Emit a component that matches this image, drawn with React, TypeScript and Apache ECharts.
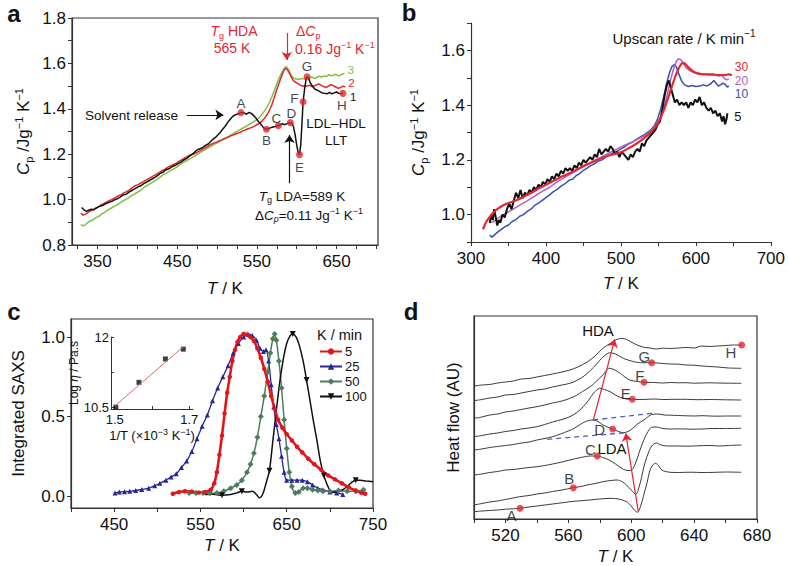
import React, { useEffect, useRef } from "react";
import * as echarts from "echarts";

const FONT = '"Liberation Sans", Arial, Helvetica, sans-serif';

// ---------------- Panel a ----------------
const aScan1: [number, number][] = [[330,0.965],[333,0.955],[336,0.948],[339,0.953],[342,0.958],[345,0.955],[348,0.962],[351,0.968],[354,0.972],[357,0.975],[360,0.982],[363,0.986],[366,0.99],[369,0.994],[372,1.0],[375,1.004],[378,1.01],[381,1.018],[384,1.022],[387,1.026],[390,1.034],[393,1.04],[396,1.046],[399,1.052],[402,1.058],[405,1.062],[408,1.07],[411,1.076],[414,1.082],[417,1.088],[420,1.094],[423,1.1],[426,1.108],[429,1.116],[432,1.12],[435,1.13],[438,1.134],[441,1.138],[444,1.146],[447,1.15],[450,1.156],[453,1.162],[456,1.168],[459,1.176],[462,1.182],[465,1.19],[468,1.198],[471,1.206],[474,1.216],[477,1.222],[480,1.226],[483,1.232],[486,1.24],[489,1.245],[492,1.256],[495,1.266],[498,1.274],[501,1.285],[504,1.296],[507,1.31],[510,1.322],[513,1.338],[516,1.352],[519,1.364],[522,1.372],[525,1.376],[528,1.38],[531,1.384],[534,1.382],[537,1.376],[540,1.384],[543,1.38],[546,1.37],[549,1.358],[552,1.344],[555,1.332],[558,1.318],[561,1.31],[564,1.312],[567,1.316],[570,1.32],[573,1.322],[576,1.325],[579,1.33],[582,1.334],[585,1.33],[588,1.335],[591,1.338],[594,1.336],[596,1.32],[598,1.285],[600,1.24],[602,1.205],[603.5,1.198],[605,1.24],[606.5,1.33],[608,1.431],[610,1.49],[612,1.535],[613,1.541],[615,1.535],[617,1.515],[620,1.498],[623,1.486],[626,1.482],[629,1.476],[632,1.47],[635,1.468],[638,1.466],[641,1.472],[644,1.466],[647,1.47],[650,1.474],[653,1.468],[656,1.466],[658,1.468]];
const aScan2: [number, number][] = [[329,0.94],[332,0.932],[335,0.936],[338,0.944],[341,0.95],[344,0.955],[347,0.96],[350,0.966],[353,0.972],[356,0.98],[359,0.984],[362,0.99],[365,0.996],[368,1.0],[371,1.006],[374,1.012],[377,1.018],[380,1.022],[383,1.03],[386,1.034],[389,1.04],[392,1.048],[395,1.056],[398,1.062],[401,1.066],[404,1.072],[407,1.078],[410,1.084],[413,1.09],[416,1.096],[419,1.102],[422,1.108],[425,1.114],[428,1.12],[431,1.128],[434,1.132],[437,1.14],[440,1.146],[443,1.15],[446,1.156],[449,1.16],[452,1.168],[455,1.174],[458,1.18],[461,1.186],[464,1.192],[467,1.198],[470,1.2],[473,1.204],[476,1.21],[479,1.216],[482,1.222],[485,1.228],[488,1.234],[491,1.24],[494,1.246],[497,1.25],[500,1.254],[503,1.26],[506,1.262],[509,1.268],[512,1.272],[515,1.276],[518,1.282],[521,1.286],[524,1.29],[527,1.294],[530,1.298],[533,1.304],[536,1.308],[539,1.312],[542,1.316],[545,1.32],[548,1.326],[551,1.332],[554,1.338],[557,1.348],[560,1.36],[563,1.375],[566,1.395],[569,1.42],[572,1.452],[575,1.485],[578,1.515],[581,1.545],[584,1.57],[586,1.578],[588,1.574],[590,1.562],[592,1.548],[594,1.534],[596,1.524],[598,1.518],[601,1.512],[604,1.505],[607,1.5],[610,1.502],[613,1.5],[616,1.504],[619,1.498],[622,1.5],[625,1.506],[628,1.51],[631,1.502],[634,1.498],[637,1.494],[640,1.5],[643,1.506],[646,1.502],[649,1.496],[652,1.49],[655,1.494],[658,1.5],[661,1.497]];
const aScan3: [number, number][] = [[329,0.89],[332,0.884],[335,0.89],[338,0.9],[341,0.906],[344,0.91],[347,0.918],[350,0.924],[353,0.93],[356,0.938],[359,0.944],[362,0.952],[365,0.958],[368,0.964],[371,0.97],[374,0.976],[377,0.982],[380,0.99],[383,0.996],[386,1.002],[389,1.008],[392,1.016],[395,1.022],[398,1.028],[401,1.034],[404,1.04],[407,1.05],[410,1.058],[413,1.064],[416,1.07],[419,1.076],[422,1.084],[425,1.09],[428,1.098],[431,1.106],[434,1.112],[437,1.118],[440,1.124],[443,1.13],[446,1.136],[449,1.142],[452,1.15],[455,1.158],[458,1.164],[461,1.17],[464,1.176],[467,1.182],[470,1.188],[473,1.194],[476,1.2],[479,1.208],[482,1.214],[485,1.22],[488,1.226],[491,1.232],[494,1.238],[497,1.244],[500,1.25],[503,1.256],[506,1.262],[509,1.268],[512,1.274],[515,1.28],[518,1.286],[521,1.292],[524,1.298],[527,1.304],[530,1.31],[533,1.316],[536,1.322],[539,1.328],[542,1.334],[545,1.34],[548,1.348],[551,1.356],[554,1.366],[557,1.378],[560,1.392],[563,1.41],[566,1.43],[569,1.455],[572,1.482],[575,1.51],[578,1.535],[581,1.558],[584,1.576],[586,1.585],[588,1.582],[590,1.57],[592,1.556],[594,1.544],[596,1.536],[598,1.532],[601,1.53],[604,1.53],[607,1.534],[610,1.53],[613,1.532],[616,1.536],[619,1.54],[622,1.534],[625,1.538],[628,1.544],[631,1.54],[634,1.545],[637,1.542],[640,1.55],[643,1.546],[646,1.548],[649,1.552],[652,1.546],[655,1.548],[658,1.554],[660,1.555]];
const aLetters = ["A", "B", "C", "D", "E", "F", "G", "H"];
const aLetterT = [530, 562, 577, 592, 603.5, 608, 613, 658];
const aLetterCp = [1.383, 1.31, 1.325, 1.339, 1.198, 1.431, 1.541, 1.468];
const aXLabels = [350, 450, 550, 650];
const aXTicks = [325, 350, 375, 400, 425, 450, 475, 500, 525, 550, 575, 600, 625, 650, 675, 700];
const aYLabels = [0.8, 1.0, 1.2, 1.4, 1.6, 1.8];
const aYTicks = [0.8, 0.9, 1.0, 1.1, 1.2, 1.3, 1.4, 1.5, 1.6, 1.7, 1.8];
const aArrows = [
  { from: [462, 1.373], to: [508, 1.373], color: "#111" },
  { from: [587.5, 1.734], to: [587.5, 1.615], color: "#e3262f" },
  { from: [591, 1.072], to: [591, 1.285], color: "#111" },
];

// ---------------- Panel b ----------------
const b30: [number, number][] = [[316,0.946],[320,0.972],[325,0.992],[330,1.008],[336,1.022],[343,1.034],[352,1.044],[362,1.054],[372,1.068],[382,1.082],[392,1.098],[402,1.112],[412,1.126],[422,1.14],[432,1.152],[442,1.166],[452,1.18],[462,1.192],[472,1.204],[482,1.214],[492,1.222],[500,1.228],[510,1.242],[520,1.258],[530,1.278],[538,1.296],[545,1.316],[551,1.343],[557,1.38],[562,1.418],[567,1.46],[572,1.5],[576,1.528],[580,1.548],[583,1.554],[586,1.55],[590,1.538],[595,1.526],[600,1.518],[606,1.514],[614,1.512],[622,1.512],[630,1.51],[638,1.51],[644,1.512],[648,1.51]];
const b20: [number, number][] = [[325,0.97],[330,0.975],[335,0.985],[340,0.995],[347,1.005],[355,1.018],[365,1.035],[375,1.05],[385,1.068],[395,1.085],[405,1.1],[415,1.12],[425,1.136],[435,1.152],[445,1.168],[455,1.182],[465,1.198],[475,1.212],[485,1.226],[495,1.24],[505,1.254],[512,1.262],[520,1.272],[530,1.286],[540,1.306],[547,1.325],[553,1.355],[558,1.395],[562,1.44],[566,1.49],[570,1.53],[574,1.56],[577,1.57],[580,1.566],[584,1.548],[588,1.534],[593,1.524],[598,1.518],[605,1.512],[612,1.514],[618,1.51],[624,1.512],[630,1.506],[635,1.508],[638,1.498],[641,1.492],[644,1.496]];
const b10: [number, number][] = [[325,0.925],[328,0.918],[331,0.925],[335,0.935],[340,0.945],[345,0.955],[350,0.962],[355,0.975],[360,0.982],[365,0.994],[370,1.0],[375,1.012],[380,1.02],[385,1.034],[390,1.042],[395,1.052],[400,1.062],[405,1.072],[410,1.084],[415,1.092],[420,1.104],[425,1.112],[431,1.126],[436,1.13],[440,1.142],[445,1.15],[450,1.162],[455,1.17],[460,1.18],[465,1.186],[470,1.196],[475,1.2],[480,1.212],[485,1.218],[490,1.226],[495,1.232],[500,1.24],[505,1.248],[510,1.258],[515,1.264],[520,1.274],[525,1.282],[530,1.29],[535,1.3],[540,1.31],[545,1.326],[549,1.35],[553,1.385],[557,1.43],[561,1.48],[565,1.52],[568,1.54],[571,1.548],[574,1.54],[577,1.515],[581,1.488],[585,1.474],[590,1.468],[595,1.472],[600,1.468],[605,1.47],[610,1.474],[615,1.47],[620,1.478],[624,1.49],[627,1.48],[630,1.47],[633,1.474],[636,1.48],[639,1.476],[642,1.466],[644,1.47]];
const b5: [number, number][] = [[325,0.97],[327,1.0],[329,0.98],[331,1.02],[333,0.99],[335,0.96],[337,0.98],[339,0.97],[342,1.0],[345,0.99],[348,1.02],[351,1.04],[354,1.02],[357,1.05],[360,1.08],[363,1.06],[366,1.09],[369,1.06],[372,1.08],[375,1.07],[378,1.09],[381,1.08],[384,1.1],[387,1.09],[390,1.11],[393,1.1],[396,1.12],[399,1.11],[402,1.13],[405,1.12],[408,1.14],[411,1.13],[414,1.15],[417,1.14],[420,1.16],[423,1.15],[426,1.17],[429,1.16],[432,1.17],[435,1.16],[438,1.18],[441,1.17],[444,1.19],[447,1.18],[450,1.2],[453,1.19],[456,1.2],[459,1.21],[462,1.2],[465,1.22],[468,1.21],[471,1.24],[474,1.22],[477,1.23],[480,1.24],[483,1.23],[486,1.25],[489,1.24],[492,1.22],[495,1.23],[498,1.21],[501,1.23],[504,1.22],[507,1.21],[510,1.2],[513,1.22],[516,1.21],[519,1.23],[522,1.24],[525,1.23],[528,1.26],[531,1.25],[534,1.27],[537,1.28],[540,1.29],[543,1.3],[546,1.31],[549,1.33],[552,1.34],[555,1.38],[558,1.43],[561,1.47],[564,1.49],[566,1.47],[568,1.45],[570,1.43],[572,1.41],[575,1.42],[578,1.4],[581,1.41],[584,1.4],[587,1.41],[590,1.39],[593,1.41],[596,1.4],[599,1.42],[602,1.41],[605,1.43],[608,1.4],[611,1.41],[614,1.39],[617,1.38],[620,1.39],[623,1.37],[626,1.38],[629,1.36],[632,1.37],[635,1.34],[637,1.36],[639,1.33],[641,1.35],[642,1.37]];
const bXLabels = [300, 400, 500, 600, 700];
const bXTicks = [300, 350, 400, 450, 500, 550, 600, 650, 700];
const bYLabels = [1.0, 1.2, 1.4, 1.6];
const bYTicks = [0.9, 1.0, 1.1, 1.2, 1.3, 1.4, 1.5, 1.6, 1.7];

// ---------------- Panel c ----------------
const c5: [number, number][] = [[518,0.015],[525,0.025],[532,0.03],[540,0.028],[548,0.022],[555,0.025],[562,0.04],[566,0.08],[569,0.15],[572,0.26],[575,0.38],[578,0.52],[581,0.65],[584,0.75],[587,0.85],[590,0.92],[593,0.97],[596,1.0],[600,1.02],[604,1.015],[608,1.0],[612,0.975],[616,0.93],[620,0.87],[624,0.8],[628,0.72],[632,0.63],[636,0.55],[640,0.48],[645,0.43],[650,0.39],[656,0.35],[662,0.31],[668,0.275],[675,0.235],[682,0.2],[690,0.165],[698,0.13],[706,0.105],[714,0.08],[722,0.055],[730,0.035],[737,0.02],[741,0.015]];
const c25: [number, number][] = [[451,0.02],[456,0.025],[462,0.028],[468,0.03],[475,0.035],[482,0.042],[490,0.05],[497,0.065],[503,0.08],[510,0.1],[516,0.12],[522,0.14],[528,0.18],[534,0.22],[540,0.28],[546,0.36],[552,0.44],[558,0.51],[564,0.6],[570,0.68],[576,0.75],[582,0.82],[588,0.9],[594,0.96],[600,1.0],[605,1.02],[610,1.01],[615,0.98],[619,0.93],[623,0.91],[626,0.92],[629,0.85],[632,0.7],[635,0.56],[638,0.45],[641,0.36],[644,0.25],[647,0.15],[650,0.1],[656,0.1],[662,0.1],[668,0.1],[674,0.09],[680,0.07],[686,0.05],[692,0.04],[700,0.025],[708,0.02],[715,0.01]];
const c50: [number, number][] = [[537,0.02],[545,0.02],[553,0.02],[561,0.018],[569,0.02],[577,0.03],[585,0.05],[592,0.07],[598,0.1],[604,0.15],[608,0.2],[612,0.27],[616,0.37],[620,0.5],[624,0.63],[628,0.78],[631,0.9],[634,0.99],[636,1.02],[638,0.98],[641,0.85],[644,0.68],[647,0.48],[650,0.3],[653,0.15],[656,0.06],[660,0.02],[664,0.025],[669,0.05],[674,0.05],[680,0.04],[686,0.035],[692,0.03],[700,0.03],[710,0.035],[720,0.03],[730,0.03],[739,0.04]];
const c100: [number, number][] = [[555,0.01],[565,0.012],[575,0.005],[585,0.01],[592,0.02],[598,0.03],[604,0.025],[610,0.03],[615,0.01],[618,-0.01],[621,0.0],[624,0.04],[627,0.1],[630,0.16],[634,0.35],[638,0.54],[642,0.72],[646,0.86],[650,0.96],[654,1.01],[657,1.02],[661,1.0],[665,0.94],[669,0.85],[673,0.73],[677,0.6],[681,0.47],[685,0.35],[689,0.22],[693,0.13],[697,0.07],[701,0.03],[705,0.025],[710,0.03],[715,0.04],[720,0.06],[725,0.085],[730,0.1],[735,0.1],[742,0.095],[750,0.09]];
const c100Marked = [575, 598, 630, 657, 673, 693, 730];
const cXLabels = [450, 550, 650, 750];
const cXTicks = [400, 450, 500, 550, 600, 650, 700, 750];
const cYLabels = [0, 0.5, 1.0];
const insetInvT = [1.503, 1.565, 1.636, 1.684];
const insetLogEta = [10.5, 11.03, 11.53, 11.74];
const insetFit: [number, number][] = [[1.501, 10.53], [1.684, 11.79]];
const insetXLabels = [1.5, 1.7];
const insetXTicks = [1.5, 1.6, 1.7];
const insetYLabels = [10.5, 12];
const insetYTicks = [10.5, 11.25, 12];

// ---------------- Panel d ----------------
const dH: [number, number][] = [[500,13.3],[505,13.4],[510,13.45],[515,13.6],[520,13.7],[525,13.8],[530,14.0],[535,14.05],[540,14.2],[545,14.35],[550,14.5],[556,14.7],[561,14.9],[566,15.2],[572,15.7],[577,16.3],[582,17.07],[587,17.6],[591,17.97],[594,18.07],[597,17.95],[600,17.7],[603,17.45],[608,17.17],[612,17.1],[616,17.0],[620,17.08],[625,17.05],[630,17.1],[635,17.15],[640,17.1],[645,17.3],[650,17.25],[655,17.3],[660,17.35],[665,17.4],[670,17.4]];
const dG: [number, number][] = [[500,11.83],[505,11.95],[510,12.1],[515,12.2],[520,12.4],[525,12.45],[530,12.6],[535,12.75],[540,12.9],[545,13.0],[550,13.2],[556,13.4],[561,13.57],[566,13.9],[570,14.3],[574,14.85],[578,15.5],[582,16.2],[586.5,16.63],[590,16.5],[595,16.07],[600,15.8],[606,15.63],[613,15.63],[620,15.55],[625,15.5],[630,15.48],[635,15.4],[640,15.38],[645,15.3],[650,15.25],[655,15.2],[662,15.1],[670,15.07]];
const dF: [number, number][] = [[500,10.07],[505,10.2],[510,10.4],[515,10.5],[520,10.7],[525,10.8],[530,10.95],[535,11.1],[540,11.23],[545,11.4],[550,11.6],[556,11.8],[561,12.07],[565,12.35],[569,12.75],[574,13.23],[578,13.8],[582,14.4],[586,15.07],[589,14.95],[593,14.57],[596,14.2],[599,13.9],[604,13.75],[608,13.67],[615,13.65],[620,13.6],[625,13.65],[630,13.62],[635,13.63],[640,13.58],[645,13.6],[650,13.62],[655,13.6],[662,13.58],[670,13.57]];
const dE: [number, number][] = [[500,8.23],[505,8.35],[510,8.5],[515,8.6],[520,8.75],[525,8.85],[530,9.0],[535,9.1],[540,9.23],[545,9.45],[550,9.7],[556,9.95],[561,10.23],[565,10.6],[569.5,11.23],[573,11.9],[576,12.57],[580,13.07],[583,12.95],[586.5,12.73],[590,12.4],[593,12.17],[597,12.0],[600.7,11.97],[605,11.95],[610,11.97],[615,12.0],[620,11.95],[628,11.97],[635,11.97],[642,11.93],[650,11.95],[660,11.92],[670,11.9]];
const dD: [number, number][] = [[500,6.9],[505,7.0],[510,7.15],[515,7.25],[520,7.35],[525,7.45],[529,7.57],[535,7.7],[540,7.9],[545,8.05],[550,8.23],[555,8.5],[560,8.8],[564,9.1],[567,9.4],[571,9.75],[575,9.9],[579,9.75],[582,9.4],[585,9.2],[588,9.0],[592,8.75],[595,8.63],[598,8.75],[601,9.07],[604,9.5],[608,9.9],[613,10.45],[617,10.5],[621,10.4],[625,10.38],[630,10.35],[635,10.32],[640,10.3],[645,10.33],[650,10.3],[655,10.28],[660,10.3],[670,10.3]];
const dC: [number, number][] = [[500,4.4],[505,4.5],[510,4.65],[515,4.75],[520,4.9],[525,4.95],[530,5.05],[535,5.15],[540,5.23],[545,5.35],[550,5.5],[556,5.7],[561,5.9],[568,6.15],[574,6.3],[578,6.3],[582,6.15],[586,5.9],[590,5.5],[595,4.97],[598,4.85],[600.3,4.9],[603,5.7],[605.6,6.9],[608,7.9],[610,8.57],[613,9.17],[616,9.2],[620,9.05],[625,9.0],[630,9.02],[638,8.98],[645,9.0],[652,9.05],[660,9.05],[670,9.07]];
const dB: [number, number][] = [[500,1.4],[505,1.55],[510,1.7],[515,1.8],[520,1.95],[525,2.1],[529,2.23],[535,2.35],[540,2.5],[545,2.6],[550,2.75],[556,2.9],[563,3.13],[568,3.25],[572,3.4],[577,3.55],[582,3.73],[587,3.85],[591,3.9],[594,3.75],[597,3.4],[600,2.9],[603,2.47],[605,3.2],[606.7,4.23],[608,5.2],[610,6.23],[613,7.3],[616,7.6],[619,7.4],[623,7.3],[630,7.3],[636,7.28],[642,7.32],[650,7.35],[656,7.3],[662,7.35],[670,7.4]];
const dA: [number, number][] = [[500,0.73],[505,0.8],[510,0.85],[515,0.9],[520,0.98],[525,1.02],[529,1.07],[535,1.2],[540,1.3],[545,1.4],[550,1.5],[556,1.62],[561,1.73],[566,1.8],[570,1.85],[575,1.92],[580,2.0],[586.5,2.07],[592,2.0],[597,1.73],[600,1.3],[602,0.9],[604,0.67],[606,1.3],[607.7,2.23],[610,3.6],[612,4.9],[614,5.45],[615.6,5.57],[617.5,5.3],[619.4,4.9],[622,4.75],[624.7,4.67],[630,4.65],[638,4.68],[645,4.65],[652,4.66],[660,4.7],[670,4.67]];
const dLetters = ["A", "B", "C", "D", "E", "F", "G", "H"];
const dLetterT = [529.3, 563.2, 578.4, 588.2, 600.7, 608.1, 613, 670.3];
const dLetterAU = [1.07, 3.13, 6.3, 9.0, 11.97, 13.67, 15.63, 17.4];
const dXLabels = [520, 560, 600, 640, 680];
const dXTicks = [500, 520, 540, 560, 580, 600, 620, 640, 660, 680];
const dArrows = [
  { from: [575.9, 9.9], to: [589.5, 17.97] },
  { from: [604.5, 0.73], to: [596.5, 8.57] },
];
const dDashed = [
  { from: [575.9, 9.9], to: [613.4, 10.57] },
  { from: [546.6, 7.97], to: [596.5, 8.63] },
];

// ---------------- helpers ----------------
const AX = "#333";
function richSet(size: number, color: string, graphic: boolean) {
  const c: any = graphic ? { fill: color } : { color };
  const small = Math.round(size * 0.66);
  return {
    n: { fontSize: size, fontFamily: FONT, lineHeight: size + 4, ...c },
    it: { fontSize: size, fontFamily: FONT, fontStyle: "italic", lineHeight: size + 4, ...c },
    sub: { fontSize: small, fontFamily: FONT, verticalAlign: "bottom", lineHeight: small + 1, ...c },
    isub: { fontSize: small, fontFamily: FONT, fontStyle: "italic", verticalAlign: "bottom", lineHeight: small + 1, ...c },
    sup: { fontSize: small, fontFamily: FONT, verticalAlign: "top", lineHeight: small + 1, ...c },
  };
}
function gtext(x: number, y: number, text: string, o: any = {}) {
  const size = o.size || 14;
  const color = o.color || "#111";
  const align = o.align || "center";
  return {
    type: "text",
    x,
    y,
    silent: true,
    z: 100,
    style: {
      text,
      fill: color,
      fontSize: size,
      fontFamily: FONT,
      fontWeight: o.bold ? "bold" : "normal",
      align,
      textAlign: align,
      verticalAlign: "middle",
      textVerticalAlign: "middle",
      rich: richSet(size, color, true),
    },
  };
}
function xAx(grid: number, min: number, max: number, labels: number[], ticks: number[], name: string, gap: number, fmt?: (v: number) => string, extra: any = {}) {
  return {
    type: "value",
    gridIndex: grid,
    min,
    max,
    name,
    nameLocation: "middle",
    nameGap: gap,
    nameTextStyle: { fontSize: 17, fontFamily: FONT, color: "#111", rich: richSet(17, "#111", false) },
    axisLine: { show: true, onZero: false, lineStyle: { color: AX, width: 1.2 } },
    axisTick: { show: true, length: 4, customValues: ticks, lineStyle: { color: AX, width: 1 } },
    axisLabel: { show: true, customValues: labels, fontSize: 17, fontFamily: FONT, color: "#111", margin: 8, formatter: fmt || ((v: number) => String(v)) },
    splitLine: { show: false },
    ...extra,
  };
}
function yAx(grid: number, min: number, max: number, labels: number[], ticks: number[], name: string, gap: number, fmt?: (v: number) => string, extra: any = {}) {
  return {
    type: "value",
    gridIndex: grid,
    min,
    max,
    name,
    nameLocation: "middle",
    nameGap: gap,
    nameRotate: 90,
    nameTextStyle: { fontSize: 17, fontFamily: FONT, color: "#111", rich: richSet(17, "#111", false) },
    axisLine: { show: true, onZero: false, lineStyle: { color: AX, width: 1.2 } },
    axisTick: { show: true, length: 4, customValues: ticks, lineStyle: { color: AX, width: 1 } },
    axisLabel: { show: true, customValues: labels, fontSize: 17, fontFamily: FONT, color: "#111", margin: 6, formatter: fmt || ((v: number) => String(v)) },
    splitLine: { show: false },
    ...extra,
  };
}
const f1 = (v: number) => v.toFixed(1);

function lineS(name: string, data: any[], x: number, color: string, width: number, extra: any = {}) {
  return {
    type: "line",
    name,
    xAxisIndex: x,
    yAxisIndex: x,
    data,
    symbol: "none",
    lineStyle: { color, width },
    itemStyle: { color },
    silent: true,
    ...extra,
  };
}
function endLab(text: string, color: string, offset: number[], distance = 4, size = 13) {
  return { show: true, formatter: text, color, fontSize: size, fontFamily: FONT, distance, offset };
}

const aLabelPos: Record<string, any> = {
  A: { position: "top", offset: [0, 5] },
  B: { position: "bottom", offset: [0, -3] },
  C: { position: "top", offset: [-2, 7] },
  D: { position: "top", offset: [1, 5] },
  E: { position: "bottom", offset: [0, -2] },
  F: { position: "left", offset: [3, -3] },
  G: { position: "top", offset: [0, 4] },
  H: { position: "bottom", offset: [-1, -2] },
};
const dLabelPos: Record<string, any> = {
  A: { position: "left", offset: [4, 7] },
  B: { position: "top", offset: [-4, 6] },
  C: { position: "left", offset: [6, -7] },
  D: { position: "left", offset: [0, 0] },
  E: { position: "left", offset: [6, -6] },
  F: { position: "left", offset: [8, -7] },
  G: { position: "left", offset: [6, -6] },
  H: { position: "left", offset: [2, 7] },
};

function arrowLines(arr: any[], color: string | null, dashed = false) {
  return arr.map((a) => [
    {
      coord: a.from,
      symbol: "none",
      lineStyle: { color: color || a.color, width: dashed ? 1.3 : 1.2, type: dashed ? [5, 4] : "solid" },
    },
    { coord: a.to, symbol: dashed ? "none" : "arrow", symbolSize: 8 },
  ]);
}

const downTri = "path://M0,0L10,0L5,9Z";

const option: any = {
  animation: false,
  backgroundColor: "#fff",
  textStyle: { fontFamily: FONT },
  grid: [
    { left: 72, top: 18, width: 306, height: 227, show: true, borderColor: AX, borderWidth: 1.2, backgroundColor: "transparent" },
    { left: 471, top: 23, width: 301, height: 219 },
    { left: 71, top: 319, width: 302, height: 189, show: true, borderColor: AX, borderWidth: 1.2, backgroundColor: "transparent" },
    { left: 111, top: 337, width: 82, height: 72 },
    { left: 474, top: 316, width: 283, height: 203, show: true, borderColor: AX, borderWidth: 1.2, backgroundColor: "transparent" },
  ],
  xAxis: [
    xAx(0, 318, 702, aXLabels, aXTicks, "{it|T}{n| / K}", 33),
    xAx(1, 300, 700, bXLabels, bXTicks, "{it|T}{n| / K}", 31),
    xAx(2, 400, 750, cXLabels, cXTicks, "{it|T}{n| / K}", 27),
    xAx(3, 1.49, 1.71, insetXLabels, insetXTicks, "{n|1/T (×10}{sup|−3}{n| K}{sup|−1}{n|)}", 18, f1, {
      nameTextStyle: { fontSize: 13, fontFamily: FONT, color: "#111", rich: richSet(13, "#111", false) },
      axisTick: { show: true, inside: true, length: 3, customValues: insetXTicks, lineStyle: { color: AX } },
      axisLabel: { show: true, customValues: insetXLabels, fontSize: 13, fontFamily: FONT, color: "#111", margin: 4, formatter: f1 },
      axisLine: { show: true, onZero: false, lineStyle: { color: AX, width: 1 } },
    }),
    xAx(4, 500, 680, dXLabels, dXTicks, "{it|T}{n| / K}", 27),
  ],
  yAxis: [
    yAx(0, 0.8, 1.8, aYLabels, aYTicks, "{it|C}{sub|p}{n| /Jg}{sup|−1}{n| K}{sup|−1}", 38, f1),
    yAx(1, 0.9, 1.7, bYLabels, bYTicks, "{it|C}{sub|p}{n| /Jg}{sup|−1}{n| K}{sup|−1}", 42, f1),
    yAx(2, -0.075, 1.114, cYLabels, cYLabels, "{n|Integrated SAXS}", 42, f1),
    yAx(3, 10.46, 12.0, insetYLabels, insetYTicks, "{n|Log }{it|η}{n| / Pa.s}", 16, (v: number) => (v === 12 ? "12" : "10.5"), {
      nameTextStyle: { fontSize: 12, fontFamily: FONT, color: "#111", rich: richSet(12, "#111", false) },
      axisTick: { show: true, inside: true, length: 3, customValues: insetYTicks, lineStyle: { color: AX } },
      axisLabel: { show: true, customValues: insetYLabels, fontSize: 13, fontFamily: FONT, color: "#111", margin: 2, formatter: (v: number) => (v === 12 ? "12" : "10.5") },
      axisLine: { show: true, onZero: false, lineStyle: { color: AX, width: 1 } },
    }),
    yAx(4, 0, 20.3, [], [], "{n|Heat flow (AU)}", 10, undefined, {
      axisTick: { show: false },
      axisLabel: { show: false },
    }),
  ],
  legend: {
    data: ["5", "25", "50", "100"],
    orient: "vertical",
    left: 319,
    top: 345,
    padding: 0,
    itemWidth: 22,
    itemHeight: 8,
    itemGap: 2,
    selectedMode: false,
    textStyle: { fontSize: 13, fontFamily: FONT, color: "#111", lineHeight: 13, padding: [0, 0, 0, -2] },
  },
  graphic: [
    gtext(14, 13, "a", { size: 24, bold: true }),
    gtext(409, 12, "b", { size: 24, bold: true }),
    gtext(14, 311, "c", { size: 24, bold: true }),
    gtext(411, 311, "d", { size: 24, bold: true }),
    // panel a annotations
    gtext(234, 31, "{it|T}{sub|g}{n| HDA}", { size: 14, color: "#e3262f" }),
    gtext(232, 48, "565 K", { size: 14, color: "#e3262f" }),
    gtext(296, 31, "{n|Δ}{it|C}{sub|p}", { size: 14, color: "#e3262f", align: "left" }),
    gtext(295, 49, "{n|0.16 Jg}{sup|−1}{n| K}{sup|−1}", { size: 14, color: "#e3262f", align: "left" }),
    gtext(85, 115, "Solvent release", { size: 13.5, align: "left" }),
    gtext(336, 123, "LDL–HDL", { size: 13.5 }),
    gtext(336, 140, "LLT", { size: 13.5 }),
    gtext(302, 196, "{it|T}{sub|g}{n| LDA=589 K}", { size: 13.5 }),
    gtext(309, 215, "{n|Δ}{it|C}{isub|p}{n|=0.11 Jg}{sup|−1}{n| K}{sup|−1}", { size: 13.5 }),
    // panel b
    gtext(684, 38, "{n|Upscan rate / K min}{sup|−1}", { size: 15 }),
    // panel c legend title
    gtext(317, 335, "K / min", { size: 14.5, align: "left" }),
    // panel d
    gtext(598, 330, "HDA", { size: 15 }),
    gtext(612, 448, "LDA", { size: 15 }),
  ],
  series: [
    // ---- panel a
    lineS("a3", aScan3, 0, "#7cc142", 1.5, { endLabel: endLab("3", "#7cc142", [0, -4], 3, 11.5) }),
    lineS("a2", aScan2, 0, "#e3262f", 1.5, { endLabel: endLab("2", "#e3262f", [0, -4], 3, 11.5) }),
    lineS("a1", aScan1, 0, "#111", 1.5, { endLabel: endLab("1", "#111", [2, 4], 5, 11.5) }),
    {
      type: "scatter",
      name: "aPts",
      xAxisIndex: 0,
      yAxisIndex: 0,
      silent: true,
      symbol: "circle",
      symbolSize: 7,
      itemStyle: { color: "#e3262f" },
      z: 5,
      data: aLetters.map((l, i) => ({
        value: [aLetterT[i], aLetterCp[i]],
        label: { show: true, formatter: l, fontSize: 13.5, fontFamily: FONT, color: "#111", distance: 4, ...aLabelPos[l] },
      })),
      markLine: { silent: true, animation: false, label: { show: false }, symbolSize: 8, data: arrowLines(aArrows, null) },
    },
    // ---- panel b
    lineS("b10", b10, 1, "#3a50b0", 1.5, { endLabel: endLab("10", "#3a50b0", [1, 8], 5, 12) }),
    lineS("b20", b20, 1, "#b060c0", 1.5, { endLabel: endLab("20", "#b060c0", [1, 2], 5, 12) }),
    lineS("b5", b5, 1, "#111", 2, { endLabel: endLab("5", "#111", [1, 3], 6, 13) }),
    lineS("b30", b30, 1, "#e3262f", 2.2, { smooth: 0.3, endLabel: endLab("30", "#e3262f", [0, -8], 3, 12) }),
    // ---- panel c
    lineS("25", c25, 2, "#26269a", 1.3, { smooth: 0.3, symbol: "triangle", symbolSize: 5, showSymbol: true }),
    lineS("50", c50, 2, "#4d7d5c", 1.5, { smooth: 0.3, symbol: "diamond", symbolSize: 6, showSymbol: true }),
    lineS("100", c100.map(([t, v]) => (c100Marked.includes(t) ? [t, v] : { value: [t, v], symbol: "none" })), 2, "#111", 1.5, { smooth: 0.3, symbol: downTri, symbolSize: 6, showSymbol: true }),
    lineS("5", c5, 2, "#e3151b", 2.6, { smooth: 0.3, symbol: "circle", symbolSize: 4.5, showSymbol: true }),
    // inset
    lineS("fit", insetFit, 3, "#e06a70", 1),
    {
      type: "scatter",
      name: "inset",
      xAxisIndex: 3,
      yAxisIndex: 3,
      silent: true,
      symbol: "rect",
      symbolSize: 5,
      itemStyle: { color: "#111" },
      data: insetInvT.map((x, i) => [x, insetLogEta[i]]),
    },
    // ---- panel d
    ...[dA, dB, dC, dD, dE, dF, dG, dH].map((d, i) => lineS("d" + i, d, 4, "#3a3a3a", 1, { smooth: 0.3 })),
    {
      type: "scatter",
      name: "dPts",
      xAxisIndex: 4,
      yAxisIndex: 4,
      silent: true,
      symbol: "circle",
      symbolSize: 7,
      itemStyle: { color: "#e3262f" },
      z: 5,
      data: dLetters.map((l, i) => ({
        value: [dLetterT[i], dLetterAU[i]],
        label: { show: true, formatter: l, fontSize: 15, fontFamily: FONT, color: "#111", distance: 4, ...dLabelPos[l] },
      })),
      markLine: {
        silent: true,
        animation: false,
        label: { show: false },
        symbolSize: 8,
        data: [...arrowLines(dArrows, "#e3262f"), ...arrowLines(dDashed, "#4a5cc8", true)],
      },
    },
  ],
};

export default function App() {
  const ref = useRef<HTMLDivElement>(null);
  useEffect(() => {
    if (!ref.current) return;
    const chart = echarts.init(ref.current, null, { renderer: "svg" });
    chart.setOption(option);
    return () => chart.dispose();
  }, []);
  return (
    <div
      ref={ref}
      style={{ position: "fixed", left: 0, top: 0, width: 788, height: 566, background: "#fff" }}
    />
  );
}
